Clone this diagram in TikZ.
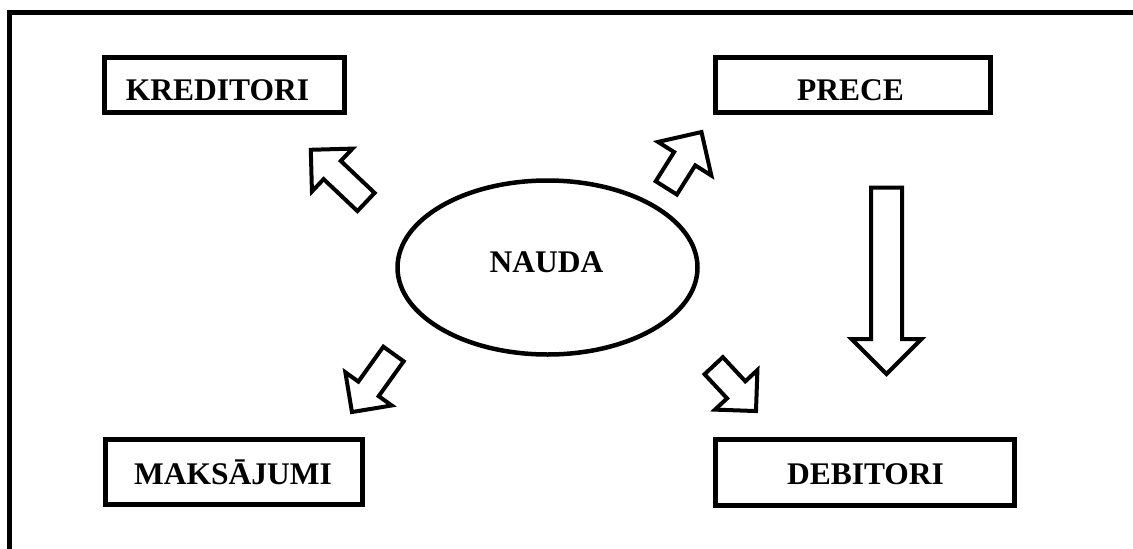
\documentclass[tikz,border=0pt]{standalone}
\usepackage{fontspec}
\setmainfont{Liberation Serif}
\usetikzlibrary{shapes.geometric}
\begin{document}
\begin{tikzpicture}[x=1pt,y=-1pt,
  box/.style={draw=black,line width=5pt,fill=white,inner sep=0pt,rectangle},
  lbl/.style={anchor=base,inner sep=0pt,font=\fontsize{31.5}{36}\selectfont\bfseries},
  oval/.style={draw=black,line width=4.5pt,ellipse,inner sep=0pt,minimum width=300,minimum height=174},
  blockline/.style={draw=black,fill=white,line width=4pt,line join=miter},
  pics/barrow/.style n args={3}{code={
    \draw[blockline] (0,-#2) -- ({#1-#3},-#2) -- ({#1-#3},-#3) -- (#1,0)
      -- ({#1-#3},#3) -- ({#1-#3},#2) -- (0,#2) -- cycle;}}]
\clip (0,0) rectangle (1133,549);
\useasboundingbox (0,0) rectangle (1133,549);
\fill[white] (0,0) rectangle (1133,549);
% outer frame (right and bottom sides lie outside the picture)
\draw[line width=5pt] (9.5,12.5) rectangle (1150,570);
% nodes
\node[box,minimum width=240,minimum height=55] (kred) at (224.2,85) {};
\node[lbl] (kredt) at (217.5,100) {KREDITORI};
\node[box,minimum width=275,minimum height=55] (prece) at (853,85) {};
\node[lbl] (precet) at (850.5,100) {PRECE};
\node[box,minimum width=299,minimum height=66] (deb) at (865,472.5) {};
\node[lbl] (debt) at (865.5,484) {DEBITORI};
\node[box,minimum width=257,minimum height=65] (maks) at (234,472) {};
\node[lbl] (makst) at (233,484) {MAKSĀJUMI};
\node[oval] (nauda) at (547.5,267.5) {};
\node[lbl] (naudat) at (546.5,272) {NAUDA};
% block arrows
\coordinate (a1) at (366,202);
\coordinate (a2) at (666.3,187.9);
\coordinate (a3) at (886.5,187.5);
\coordinate (a4) at (393.5,354);
\coordinate (a5) at (713.7,365.7);
\pic[rotate=136.6] at (a1) {barrow={76}{12.5}{29.5}};
\pic[rotate=57.8] at (a2) {barrow={66}{12.5}{31.5}};
\pic[rotate=-90] at (a3) {barrow={186.5}{15.5}{35}};
\pic[rotate=234.4] at (a4) {barrow={71.4}{12.5}{28.5}};
\pic[rotate=-47] at (a5) {barrow={62}{12.5}{29}};
\end{tikzpicture}
\end{document}
